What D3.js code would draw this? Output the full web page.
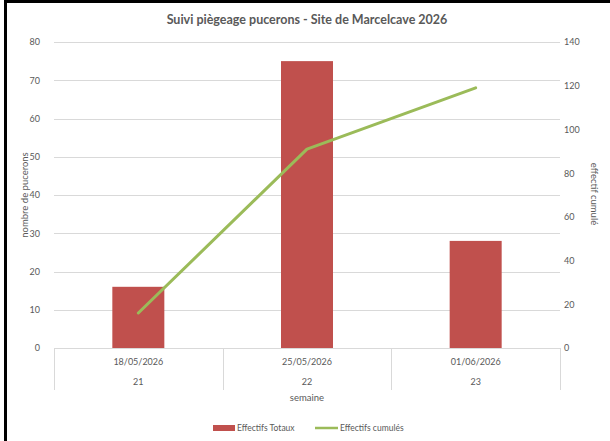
<!DOCTYPE html>
<html><head><meta charset="utf-8">
<script src="https://cdn.jsdelivr.net/npm/d3@7"></script>
<style>
html,body{margin:0;padding:0;background:#fff;}
svg{display:block;font-family:Lato,"Open Sans",sans-serif;}
</style></head>
<body>
<svg id="c" width="610" height="441"></svg>
<script>
const dates = ["18/05/2026","25/05/2026","01/06/2026"];
const weeks = ["21","22","23"];
const totals = [16,75,28];
const cumul = [16,91,119];
const leftTicks = [0,10,20,30,40,50,60,70,80];
const rightTicks = [0,20,40,60,80,100,120,140];

const svg = d3.select("#c");
const L=54, R=560, T=42, B=348;
const x = d3.scaleBand().domain(d3.range(dates.length)).range([L,R]).paddingInner(0).paddingOuter(0);
const yL = d3.scaleLinear().domain([0,80]).range([B,T]);
const yR = d3.scaleLinear().domain([0,140]).range([B,T]);
const grey="#595959";

// frame
svg.append("rect").attr("x",0).attr("y",0).attr("width",610).attr("height",441).attr("fill","#fff");
svg.append("path").attr("d","M5.5,441 V1.5 H610").attr("fill","none").attr("stroke","#000").attr("stroke-width",3);

// gridlines
svg.append("g").selectAll("line").data(leftTicks.filter(d=>d>0)).join("line")
  .attr("x1",L).attr("x2",R).attr("y1",d=>Math.round(yL(d))+0.5).attr("y2",d=>Math.round(yL(d))+0.5)
  .attr("stroke","#d9d9d9").attr("stroke-width",1);

// left axis
const ga = svg.append("g").attr("transform",`translate(${L},0)`)
  .call(d3.axisLeft(yL).tickValues(leftTicks).tickSize(0).tickPadding(14));
ga.select(".domain").remove();
ga.selectAll("text").attr("fill",grey).attr("font-size",9).attr("font-family","Lato,sans-serif");

const gr = svg.append("g").attr("transform",`translate(${R},0)`)
  .call(d3.axisRight(yR).tickValues(rightTicks).tickSize(0).tickPadding(4));
gr.select(".domain").remove();
gr.selectAll("text").attr("fill",grey).attr("font-size",9).attr("font-family","Lato,sans-serif");

// bars
const bw = 52;
svg.append("g").selectAll("rect").data(totals).join("rect")
  .attr("x",(d,i)=>x(i)+x.bandwidth()/2-bw/2).attr("width",bw)
  .attr("y",d=>yL(d)).attr("height",d=>B-yL(d)).attr("fill","#C0504D");

// baseline and category separators
svg.append("line").attr("x1",L).attr("x2",R).attr("y1",B+0.5).attr("y2",B+0.5).attr("stroke","#d9d9d9");
svg.append("g").selectAll("line").data(d3.range(dates.length+1)).join("line")
  .attr("x1",i=>Math.round(L+i*x.bandwidth())+0.5).attr("x2",i=>Math.round(L+i*x.bandwidth())+0.5)
  .attr("y1",B).attr("y2",390).attr("stroke","#d9d9d9");

// category labels
svg.append("g").selectAll("text").data(dates).join("text")
  .attr("x",(d,i)=>x(i)+x.bandwidth()/2).attr("y",365).attr("text-anchor","middle")
  .attr("font-size",9).attr("fill",grey).text(d=>d);
svg.append("g").selectAll("text").data(weeks).join("text")
  .attr("x",(d,i)=>x(i)+x.bandwidth()/2).attr("y",385).attr("text-anchor","middle")
  .attr("font-size",9).attr("fill",grey).text(d=>d);
svg.append("text").attr("x",(L+R)/2).attr("y",401).attr("text-anchor","middle")
  .attr("font-size",9.5).attr("fill",grey).text("semaine");

// line
const line = d3.line().x((d,i)=>x(i)+x.bandwidth()/2).y(d=>yR(d));
svg.append("path").datum(cumul).attr("d",line).attr("fill","none")
  .attr("stroke","#9BBB59").attr("stroke-width",3).attr("stroke-linecap","round").attr("stroke-linejoin","round");

// title
svg.append("text").attr("x",307).attr("y",24).attr("text-anchor","middle")
  .attr("font-size",12.5).attr("font-weight","bold").attr("fill",grey).text("Suivi piègeage pucerons - Site de Marcelcave 2026");

// axis titles
svg.append("text").attr("transform","translate(28,195) rotate(-90)").attr("text-anchor","middle")
  .attr("font-size",9.5).attr("fill",grey).text("nombre de pucerons");
svg.append("text").attr("transform","translate(591,194) rotate(90)").attr("text-anchor","middle")
  .attr("font-size",9.5).attr("fill",grey).text("effectif cumulé");

// legend
const lg = svg.append("g");
lg.append("rect").attr("x",213).attr("y",425).attr("width",22).attr("height",6).attr("fill","#C0504D");
lg.append("text").attr("x",237).attr("y",431).attr("font-size",8.5).attr("fill",grey).text("Effectifs Totaux");
lg.append("line").attr("x1",315).attr("x2",338).attr("y1",428).attr("y2",428).attr("stroke","#9BBB59").attr("stroke-width",2.5);
lg.append("text").attr("x",340).attr("y",431).attr("font-size",8.5).attr("fill",grey).text("Effectifs cumulés");
</script>
</body></html>
